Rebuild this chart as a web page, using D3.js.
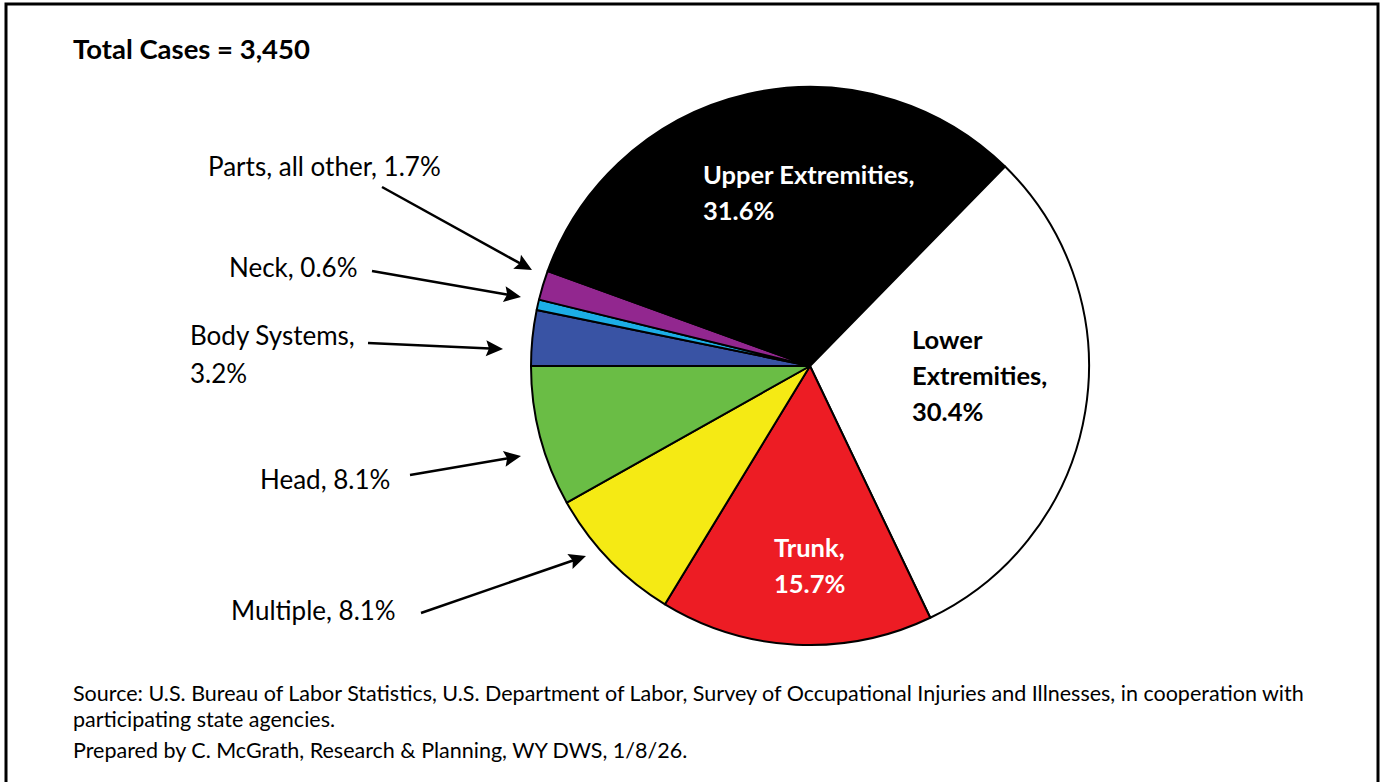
<!DOCTYPE html>
<html>
<head>
<meta charset="utf-8">
<script src="https://cdn.jsdelivr.net/npm/d3@7"></script>
<style>
  html, body { margin: 0; padding: 0; background: #fff; }
  svg { display: block; }
  text { font-family: Lato, "Open Sans", sans-serif; }
</style>
</head>
<body>
<svg id="chart" width="1384" height="782"></svg>
<script>
// ---- data ----
const categories = ["Body Systems", "Neck", "Parts, all other", "Upper Extremities", "Lower Extremities", "Trunk", "Multiple", "Head"];
const values = [3.2, 0.6, 1.7, 31.6, 30.4, 15.7, 8.1, 8.1];
const colors = ["#3953A4", "#1CAEE6", "#92278F", "#000000", "#FFFFFF", "#ED1C24", "#F5EA14", "#6ABD45"];
const totalCases = "3,450";
const footerLines = [
  "Source: U.S. Bureau of Labor Statistics, U.S. Department of Labor, Survey of Occupational Injuries and Illnesses, in cooperation with",
  "participating state agencies.",
  "Prepared by C. McGrath, Research & Planning, WY DWS, 1/8/26."
];

// ---- layout ----
const cx = 810, cy = 366, R = 279;

const svg = d3.select("#chart");

// frame
svg.append("rect")
  .attr("x", 6).attr("y", 4).attr("width", 1372).attr("height", 800)
  .attr("fill", "none").attr("stroke", "#000").attr("stroke-width", 3);

// title
svg.append("text")
  .attr("x", 73).attr("y", 59)
  .attr("font-size", 27.5).attr("font-weight", 700)
  .text("Total Cases = " + totalCases);

const data = categories.map((c, i) => ({ cat: c, value: values[i], color: colors[i] }));

const pie = d3.pie().sort(null).value(d => d.value)
  .startAngle(-Math.PI / 2).endAngle(3 * Math.PI / 2);
const arc = d3.arc().innerRadius(0).outerRadius(R);

const g = svg.append("g").attr("transform", `translate(${cx},${cy})`);
const arcs = pie(data);
g.selectAll("path.slice").data(arcs).join("path")
  .attr("class", "slice")
  .attr("d", arc)
  .attr("fill", d => d.data.color)
  .attr("stroke", "#000")
  .attr("stroke-width", 2)
  .attr("stroke-linejoin", "round");

const fmt = v => d3.format(".1f")(v) + "%";

// inner labels (left aligned lines)
const inner = [
  { cat: "Upper Extremities", x: 703, y: 184, fill: "#fff", lines: d => ["Upper Extremities,", fmt(d)] },
  { cat: "Lower Extremities", x: 912, y: 349, fill: "#000", lines: d => ["Lower", "Extremities,", fmt(d)] },
  { cat: "Trunk", x: 774, y: 557, fill: "#fff", lines: d => ["Trunk,", fmt(d)] }
];
const lineH = 36;
inner.forEach(L => {
  const v = values[categories.indexOf(L.cat)];
  const t = svg.append("text")
    .attr("x", L.x).attr("y", L.y)
    .attr("font-size", 25.5).attr("font-weight", 700)
    .attr("fill", L.fill);
  L.lines(v).forEach((s, i) => {
    t.append("tspan").attr("x", L.x).attr("dy", i === 0 ? 0 : lineH).text(s);
  });
});

// outer labels with arrows
const outer = [
  { cat: "Parts, all other", tx: 208, ty: 176, lines: d => ["Parts, all other, " + fmt(d)], a0: [382, 187], a1: [532, 270] },
  { cat: "Neck", tx: 229, ty: 277, lines: d => ["Neck, " + fmt(d)], a0: [372, 271], a1: [521, 297] },
  { cat: "Body Systems", tx: 190, ty: 345, lines: d => ["Body Systems,", fmt(d)], a0: [368, 343], a1: [503, 349] },
  { cat: "Head", tx: 260, ty: 489, lines: d => ["Head, " + fmt(d)], a0: [410, 475], a1: [521, 456] },
  { cat: "Multiple", tx: 231, ty: 620, lines: d => ["Multiple, " + fmt(d)], a0: [421, 613], a1: [586, 556] }
];

function arrowHead(p0, p1, len, half) {
  const dx = p1[0] - p0[0], dy = p1[1] - p0[1];
  const L = Math.hypot(dx, dy), ux = dx / L, uy = dy / L;
  const bx = p1[0] - ux * len, by = p1[1] - uy * len;
  return [[p1[0], p1[1]], [bx - uy * half, by + ux * half], [bx + ux * 3, by + uy * 3], [bx + uy * half, by - ux * half]];
}

outer.forEach(L => {
  const v = values[categories.indexOf(L.cat)];
  const t = svg.append("text")
    .attr("x", L.tx).attr("y", L.ty)
    .attr("font-size", 26).attr("fill", "#000");
  L.lines(v).forEach((s, i) => {
    t.append("tspan").attr("x", L.tx).attr("dy", i === 0 ? 0 : 38).text(s);
  });
  const len = 17;
  const dx = L.a1[0] - L.a0[0], dy = L.a1[1] - L.a0[1];
  const D = Math.hypot(dx, dy);
  svg.append("line")
    .attr("x1", L.a0[0]).attr("y1", L.a0[1])
    .attr("x2", L.a1[0] - dx / D * (len - 4)).attr("y2", L.a1[1] - dy / D * (len - 4))
    .attr("stroke", "#000").attr("stroke-width", 2.5);
  svg.append("path")
    .attr("d", d3.line()(arrowHead(L.a0, L.a1, len, 8)) + "Z")
    .attr("fill", "#000");
});

// footer
const footerY = [701, 727, 758];
footerLines.forEach((s, i) => {
  svg.append("text")
    .attr("x", 73).attr("y", footerY[i])
    .attr("font-size", 21.5).attr("fill", "#000")
    .text(s);
});
</script>
</body>
</html>
